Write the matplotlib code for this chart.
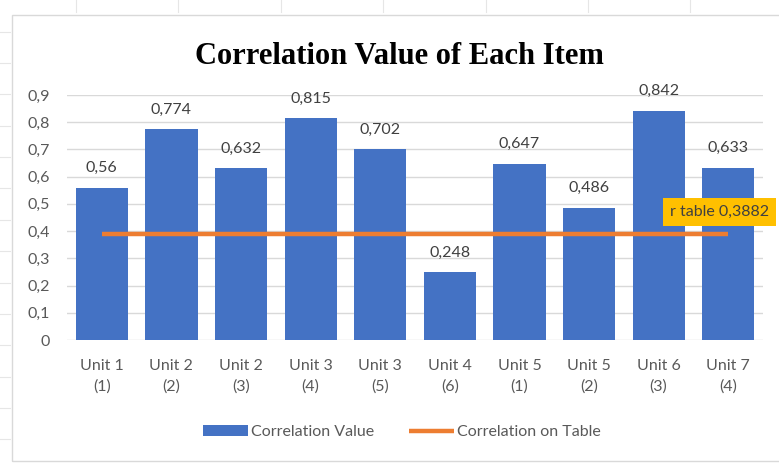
import matplotlib
matplotlib.use("Agg")
import matplotlib.pyplot as plt
from matplotlib.patches import Rectangle
from matplotlib.lines import Line2D
from matplotlib.ticker import FuncFormatter

units = ["Unit 1", "Unit 2", "Unit 2", "Unit 3", "Unit 3", "Unit 4", "Unit 5", "Unit 5", "Unit 6", "Unit 7"]
items = ["(1)", "(2)", "(3)", "(4)", "(5)", "(6)", "(1)", "(2)", "(3)", "(4)"]
corr_values = [0.56, 0.774, 0.632, 0.815, 0.702, 0.248, 0.647, 0.486, 0.842, 0.633]
r_table = 0.3882

BLUE = "#4472C4"
ORANGE = "#ED7D31"
GRAY = "#595959"
W, H = 779, 463

plt.rcParams['font.family'] = ['Lato', 'DejaVu Sans']

fig = plt.figure(figsize=(W / 100, H / 100), dpi=100)
fig.patch.set_facecolor("white")

# faint spreadsheet grid behind the chart
for x in [76, 178, 281, 383, 486, 588, 690]:
    fig.add_artist(Line2D([x / W, x / W], [1, 1 - 12 / H], color="#e6e6e6", lw=0.8))
for y in [32, 63, 94, 126, 157, 188, 220, 251, 283, 314, 345, 377, 408, 439]:
    fig.add_artist(Line2D([0, 10 / W], [1 - y / H, 1 - y / H], color="#e6e6e6", lw=0.8))
# chart border
fig.add_artist(Rectangle((12 / W, 0.005), 1.0, 1 - 15 / H - 0.005, transform=fig.transFigure,
                         fill=False, edgecolor="#d9d9d9", lw=1.0))

ax = fig.add_axes([67 / W, 1 - 340 / H, (763 - 67) / W, (340 - 95) / H])
x = list(range(len(corr_values)))
bars = ax.bar(x, corr_values, width=0.75, color=BLUE, zorder=3, label="Correlation Value")
line, = ax.plot(x, [r_table] * len(x), color=ORANGE, lw=3.2, zorder=4,
                solid_capstyle="butt", label="Correlation on Table")

for xi, v in zip(x, corr_values):
    ax.annotate(f"{v:g}".replace(".", ","), (xi, v), xytext=(0, 9), textcoords="offset points",
                ha="center", va="bottom", fontsize=11.5, color="#404040")

ax.annotate(f"r table {r_table:g}".replace(".", ","), (x[-1], r_table), xytext=(-42, 16),
            textcoords="offset points", ha="left", va="center", fontsize=11.5, color="#404040",
            bbox=dict(boxstyle="square,pad=0.45", fc="#FFC000", ec="none"), zorder=6,
            annotation_clip=False)

ax.set_xlim(-0.5, len(x) - 0.5)
ax.set_ylim(0, 0.9)
ax.set_yticks([i / 10 for i in range(10)])
ax.yaxis.set_major_formatter(FuncFormatter(lambda v, p: f"{v:.1f}".replace(".", ",") if v > 0 else "0"))
ax.set_xticks(x)
ax.set_xticklabels([f"{u}\n{i}" for u, i in zip(units, items)], linespacing=1.5)
ax.tick_params(axis="both", length=0, labelsize=11.5, labelcolor=GRAY)
ax.tick_params(axis="x", pad=14)
ax.tick_params(axis="y", pad=12)
ax.grid(axis="y", color="#d9d9d9", lw=1.0, zorder=0)
for s in ax.spines.values():
    s.set_visible(False)

fig.text(399 / W, 1 - 57 / H, "Correlation Value of Each Item", ha="center", va="center",
         fontsize=22, fontweight="bold", family="Liberation Serif")

fig.legend(handles=[bars, line], loc="center", bbox_to_anchor=(402 / W, 1 - 432 / H), ncol=2,
           frameon=False, fontsize=11.5, labelcolor=GRAY, handlelength=2.8, handletextpad=0.2,
           columnspacing=2.2)

fig.savefig("out.png", dpi=100)
